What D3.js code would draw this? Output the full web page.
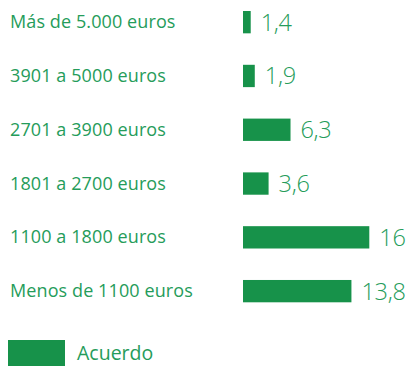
<!DOCTYPE html>
<html>
<head>
<meta charset="utf-8">
<script src="https://cdn.jsdelivr.net/npm/d3@7/dist/d3.min.js"></script>
<style>
  html, body { margin: 0; padding: 0; background: #fff; }
  svg { display: block; }
</style>
</head>
<body>
<script>
// Income brackets and the share that answered "Acuerdo"
const categories = [
  "Más de 5.000 euros",
  "3901 a 5000 euros",
  "2701 a 3900 euros",
  "1801 a 2700 euros",
  "1100 a 1800 euros",
  "Menos de 1100 euros"
];
const values = [1.4, 1.9, 6.3, 3.6, 16, 13.8];
const valueLabels = ["1,4", "1,9", "6,3", "3,6", "16", "13,8"];
const seriesName = "Acuerdo";

const W = 408, H = 367;
const barColor = "#17924a";
const textColor = "#259c5a";
const barLeft = 243;

const svg = d3.select("body").append("svg")
  .attr("width", W).attr("height", H);

const y = d3.scaleBand()
  .domain(categories)
  .range([11, 302.3])
  .paddingInner(0.585)
  .paddingOuter(0);

const x = d3.scaleLinear()
  .domain([0.45, d3.max(values)])
  .range([0, 126.3]);

const barW = v => Math.max(5, x(v));

const rows = svg.selectAll("g.row")
  .data(categories.map((c, i) => ({ c, v: values[i], t: valueLabels[i] })))
  .join("g").attr("class", "row");

rows.append("text")
  .attr("x", 10)
  .attr("y", d => y(d.c) + y.bandwidth() / 2)
  .attr("dy", "0.34em")
  .attr("fill", textColor)
  .style("font-family", "'Open Sans', sans-serif")
  .style("font-size", "18px")
  .style("letter-spacing", "0.1px")
  .text(d => d.c);

rows.append("rect")
  .attr("x", barLeft)
  .attr("y", d => y(d.c))
  .attr("width", d => barW(d.v))
  .attr("height", y.bandwidth())
  .attr("fill", barColor);

rows.append("text")
  .attr("x", d => barLeft + barW(d.v) + 10)
  .attr("y", d => y(d.c) + y.bandwidth() / 2)
  .attr("dy", "0.36em")
  .attr("fill", textColor)
  .style("font-family", "'Open Sans', sans-serif")
  .style("font-weight", 300)
  .style("font-size", "23.5px")
  .style("letter-spacing", "-0.3px")
  .text(d => d.t);

// Legend
const legend = svg.append("g");
legend.append("rect")
  .attr("x", 8).attr("y", 340)
  .attr("width", 57).attr("height", 26)
  .attr("fill", barColor);
legend.append("text")
  .attr("x", 77).attr("y", 353)
  .attr("dy", "0.36em")
  .attr("fill", textColor)
  .style("font-family", "'Open Sans', sans-serif")
  .style("font-size", "19.5px")
  .text(seriesName);
</script>
</body>
</html>
